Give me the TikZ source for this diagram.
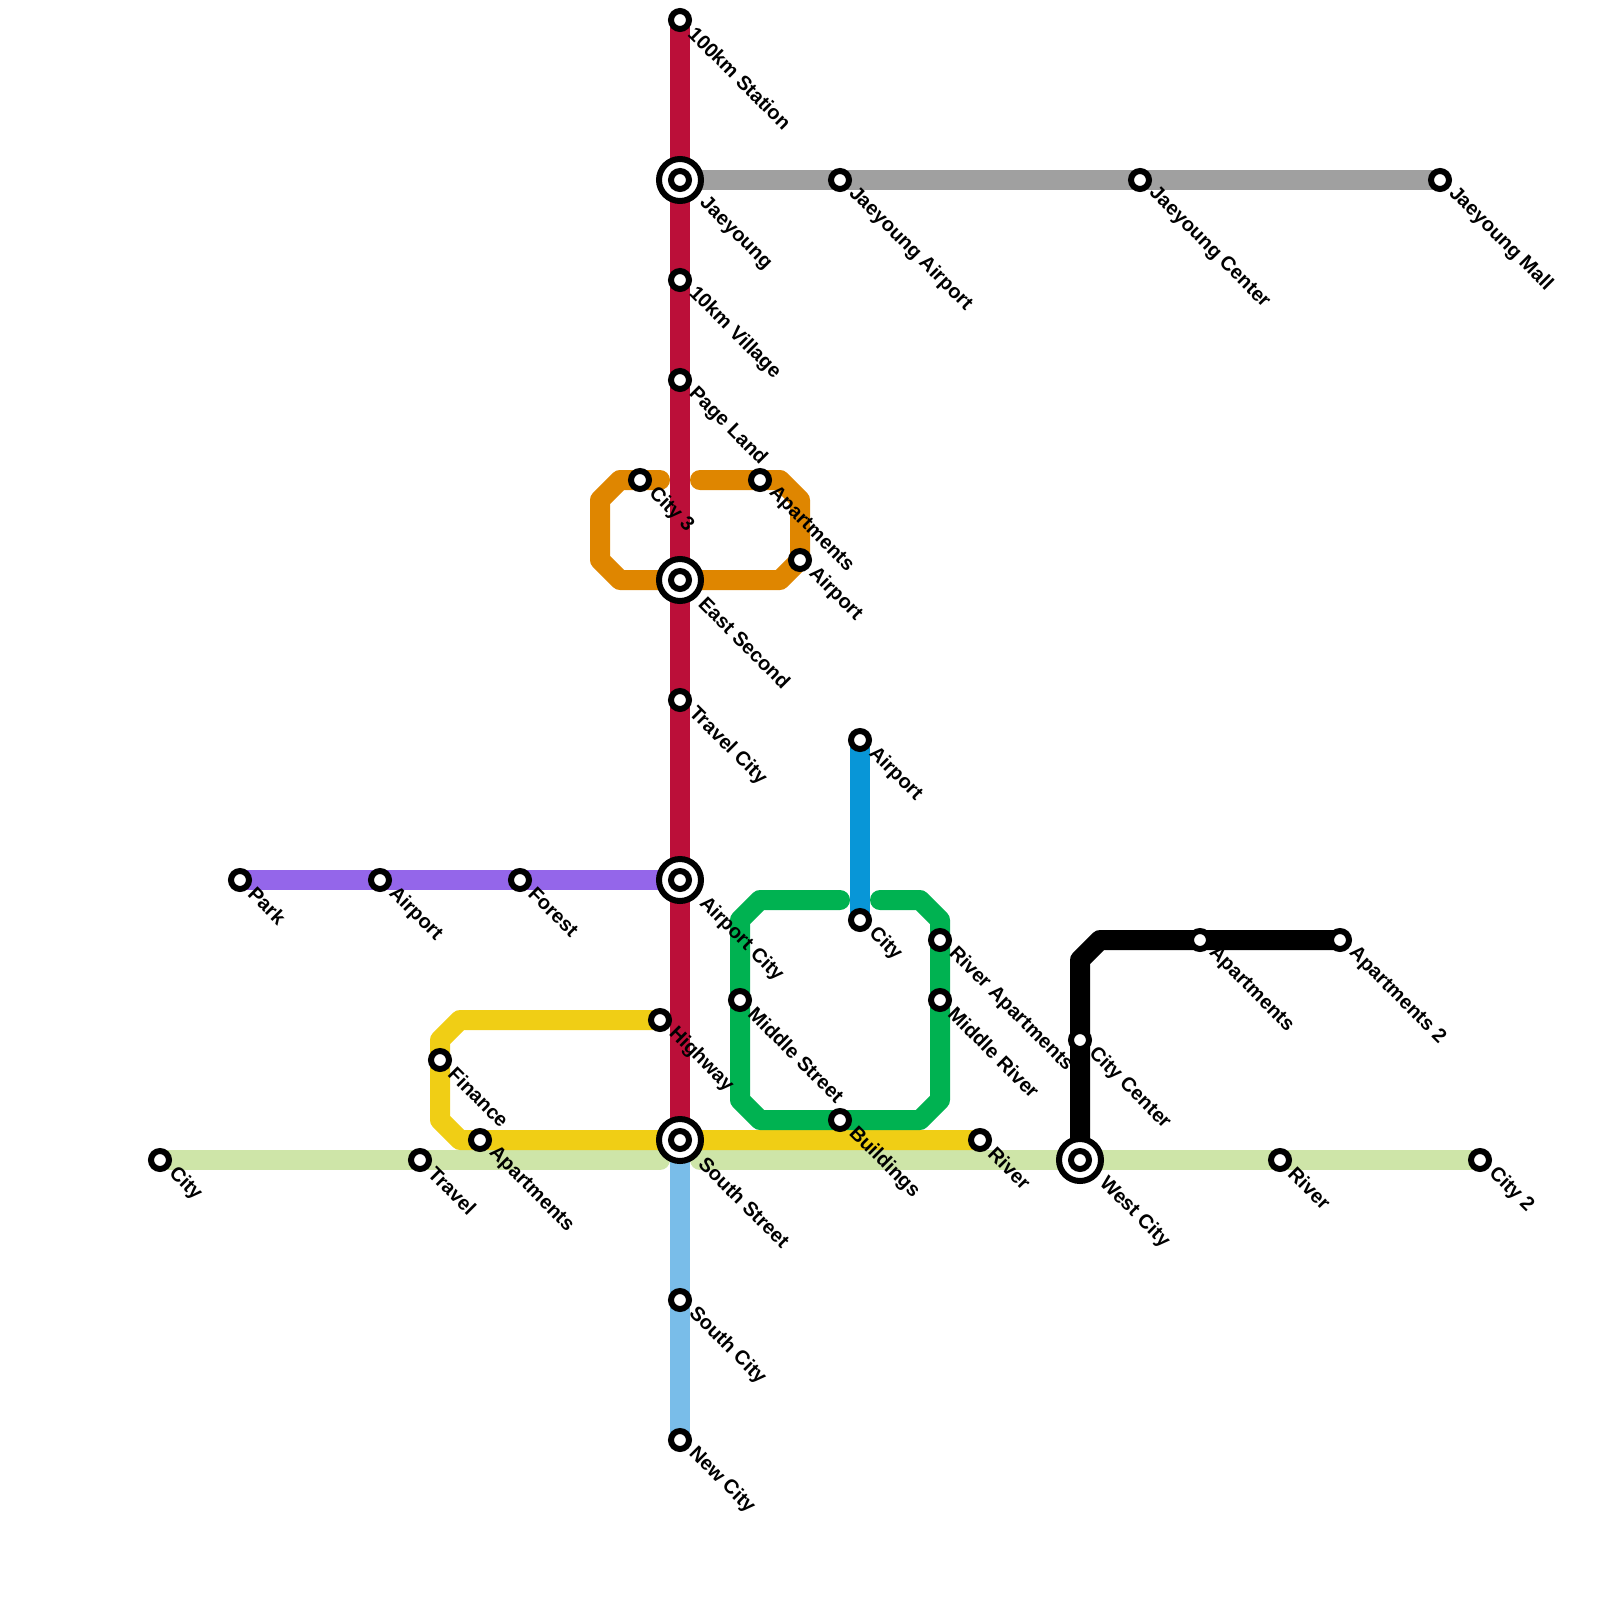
\documentclass[tikz,border=0pt]{standalone}
\usepackage{fontspec}
\setmainfont{Liberation Sans}
\usetikzlibrary{calc,backgrounds}
\definecolor{lineRed}{HTML}{BB0F39}
\definecolor{lineGray}{HTML}{A0A0A0}
\definecolor{lineOrange}{HTML}{DF8600}
\definecolor{linePurple}{HTML}{9466EA}
\definecolor{lineYellow}{HTML}{F0CE15}
\definecolor{lineLime}{HTML}{CEE5A8}
\definecolor{lineSky}{HTML}{79BDE9}
\definecolor{lineBlue}{HTML}{0896D7}
\definecolor{lineGreen}{HTML}{00B251}
\tikzset{
  metro/.style={line width=0.25cm,line join=round,line cap=round},
  stn/.style={circle,draw,fill=white,line width=0.075cm,minimum size=0.225cm,inner sep=0pt},
  ixouter/.style={circle,draw,fill=white,line width=0.075cm,minimum size=0.525cm,inner sep=0pt},
  lbl/.style={font=\bfseries\fontsize{7.1}{8}\selectfont,rotate=-45,anchor=west,inner sep=0pt},
}
\begin{document}
\begin{tikzpicture}[x=0.25cm,y=-0.25cm]
\useasboundingbox (0,0) rectangle (80,80);

% plain stations
\foreach \n/\x/\y/\t in {hundred/34/1/{100km Station}, tenkm/34/14/{10km Village}, page/34/19/{Page Land},
                     travelc/34/35/{Travel City}, highway/33/51/{Highway},
                     jairport/42/9/{Jaeyoung Airport}, jcenter/57/9/{Jaeyoung Center}, jmall/72/9/{Jaeyoung Mall},
                     city3/32/24/{City 3}, oapts/38/24/{Apartments}, oairport/40/28/{Airport},
                     park/12/44/{Park}, pairport/19/44/{Airport}, forest/26/44/{Forest},
                     finance/22/53/{Finance}, yapts/24/57/{Apartments}, yriver/49/57/{River},
                     city/8/58/{City}, travel/21/58/{Travel}, griver/64/58/{River}, city2/74/58/{City 2},
                     southc/34/65/{South City}, newc/34/72/{New City},
                     bairport/43/37/{Airport}, bcity/43/46/{City},
                     midst/37/50/{Middle Street}, buildings/42/56/{Buildings},
                     riverapts/47/47/{River Apartments}, midriver/47/50/{Middle River},
                     citycenter/54/52/{City Center}, kapts/60/47/{Apartments}, kapts2/67/47/{Apartments 2}} {
  \node[stn] (\n) at (\x,\y) {};
  \node[lbl] (\n txt) at ($(\n)+(0.58,0.5)$) {\t};
}

% interchanges
\foreach \n/\x/\y/\t in {jaeyoung/34/9/{Jaeyoung}, east/34/29/{East Second}, aircity/34/44/{Airport City},
                     south/34/57/{South Street}, west/54/58/{West City}} {
  \node[ixouter] (\n) at (\x,\y) {};
  \node[stn] (\n in) at (\n) {};
  \node[lbl] (\n txt) at ($(\n)+(1.1,1)$) {\t};
}

% bends and free ends
\foreach \n/\x/\y in {oa/33/24, ob/31/24, oc/30/25, od/30/28, oe/31/29, of/39/29, og/40/28, oh/40/25, oi/39/24, oj/35/24,
                     ya/23/51, yb/22/52, yc/22/56, yd/23/57,
                     la/33/58, lb/35/58,
                     ga/42/45, gb/38/45, gc/37/46, gd/37/55, ge/38/56, gf/46/56, gg/47/55, gh/47/46, gi/46/45, gj/44/45,
                     ka/54/48, kb/55/47} {
  \coordinate (\n) at (\x,\y);
}

\begin{scope}[on background layer]
% lines
\draw[metro,lineLime] (city.center) -- (travel.center) -- (la);
\draw[metro,lineLime] (lb) -- (west.center) -- (griver.center) -- (city2.center);
\draw[metro,lineOrange] (oa) -- (city3.center) -- (ob) -- (oc) -- (od) -- (oe) -- (east.center) -- (of) -- (og) -- (oh) -- (oi) -- (oapts.center) -- (oj);
\draw[metro,lineRed] (hundred.center) -- (south.center);
\draw[metro,lineGray] (jaeyoung.center) -- (jmall.center);
\draw[metro,linePurple] (park.center) -- (aircity.center);
\draw[metro,lineYellow] (highway.center) -- (ya) -- (yb) -- (yc) -- (yd) -- (yriver.center);
\draw[metro,lineSky] (south.center) -- (newc.center);
\draw[metro,lineGreen] (ga) -- (gb) -- (gc) -- (gd) -- (ge) -- (gf) -- (gg) -- (gh) -- (gi) -- (gj);
\draw[metro,lineBlue] (bairport.center) -- (bcity.center);
\draw[metro,black] (west.center) -- (ka) -- (kb) -- (kapts2.center);
\end{scope}
\end{tikzpicture}
\end{document}
